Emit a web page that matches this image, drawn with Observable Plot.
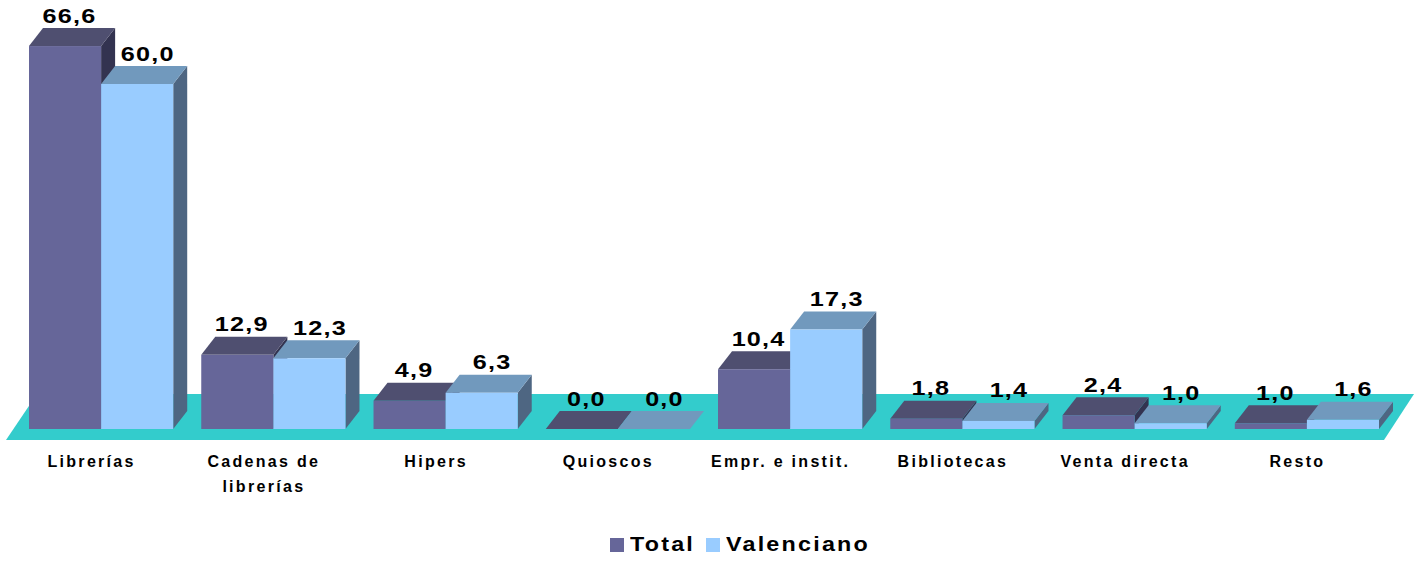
<!DOCTYPE html>
<html>
<head>
<meta charset="utf-8">
<script src="https://cdn.jsdelivr.net/npm/d3@7"></script>
<script src="https://cdn.jsdelivr.net/npm/@observablehq/plot@0.6"></script>
<style>
html,body{margin:0;padding:0;background:#fff;overflow:hidden}
#chart svg{display:block}
#legend{position:absolute;left:0;top:532px;width:1420px;height:28px;
 font:bold 21px "Liberation Sans",Arial,sans-serif;letter-spacing:2px;color:#000;line-height:24px}
#legend span{position:absolute;white-space:nowrap}
</style>
</head>
<body>
<div id="chart"></div>
<div id="legend"></div>
<script>
const categories = ["Librerías","Cadenas de\nlibrerías","Hipers","Quioscos","Empr. e instit.","Bibliotecas","Venta directa","Resto"];
const seriesNames = ["Total","Valenciano"];
const totalValues = [66.6,12.9,4.9,0.0,10.4,1.8,2.4,1.0];
const valencianoValues = [60.0,12.3,6.3,0.0,17.3,1.4,1.0,1.6];
const frontColors = ["#666699","#99ccff"];
const topColors = ["#4f4f70","#7199bd"];
const sideColors = ["#333350","#4e6682"];
const floorColor = "#33cccc";

const rowsOf = (name, values) => categories.map((category,i)=>({category, series:name, value:values[i]}));
const totalRows = rowsOf(seriesNames[0], totalValues);
const valRows = rowsOf(seriesNames[1], valencianoValues);
const fmt = d => d.value.toFixed(1).replace(".",",");

const depthX = 14, depthY = 18;
const NS = "http://www.w3.org/2000/svg";
function poly(parent, pts, fill){
  const p = document.createElementNS(NS,"polygon");
  p.setAttribute("points", pts.map(q=>q.join(",")).join(" "));
  p.setAttribute("fill", fill);
  parent.appendChild(p);
}
function box3d(rows, k){
  return function(index, scales, values, dimensions, context, next){
    const g = document.createElementNS(NS,"g");
    const w = scales.x.bandwidth();
    for (const i of index){
      const d = rows[i];
      const x0 = scales.x(d.series), x1 = x0 + w, yT = scales.y(d.value), yB = scales.y(0);
      poly(g,[[x1,yT],[x1+depthX,yT-depthY],[x1+depthX,yB-depthY],[x1,yB]],sideColors[k]);
      poly(g,[[x0,yT],[x0+depthX,yT-depthY],[x1+depthX,yT-depthY],[x1,yT]],topColors[k]);
    }
    const front = next(index, scales, values, dimensions, context);
    if (front) g.appendChild(front);
    return g;
  };
}
const labelFont = {fontFamily:"'Liberation Sans',Arial,sans-serif",fontWeight:"bold",fontSize:21,fill:"#000"};
const H = 525;
const plot = Plot.plot({
  width:1420, height:H,
  marginLeft:29, marginRight:41, marginTop:0, marginBottom:96,
  style:{background:"#fff",overflow:"visible"},
  fx:{domain:categories,paddingInner:28/172,paddingOuter:0,align:0,round:false,label:null},
  x:{domain:seriesNames,padding:0,round:false,axis:null},
  y:{domain:[0,429/5.75],axis:null},
  color:{domain:seriesNames,range:frontColors},
  marks:[
    Plot.barY(totalRows,{fx:"category",x:"series",y:"value",fill:"series",render:box3d(totalRows,0)}),
    Plot.barY(valRows,{fx:"category",x:"series",y:"value",fill:"series",render:box3d(valRows,1)}),
    Plot.text(totalRows,{fx:"category",x:"series",y:"value",text:fmt,dx:4,dy:-24,lineAnchor:"bottom",...labelFont}),
    Plot.text(valRows,{fx:"category",x:"series",y:"value",text:fmt,dx:10,dy:-24,lineAnchor:"bottom",...labelFont}),
    Plot.axisFx({anchor:"bottom",tickSize:0,tickPadding:19,dx:-10,label:null,lineHeight:1.6,lineWidth:Infinity,
      fontFamily:"'Liberation Sans',Arial,sans-serif",fontWeight:"bold",fontSize:16,fill:"#000"})
  ]
});
document.getElementById("chart").appendChild(plot);

// Floor, placed under all the marks, from the plot's own scales
const fxScale = plot.scale("fx"), yScale = plot.scale("y");
const left = fxScale.apply(categories[0]), right = fxScale.apply(categories[categories.length-1]) + fxScale.bandwidth;
const base = yScale.apply(0);
const floorG = document.createElementNS(NS,"g");
poly(floorG,[[left-23,base+11],[left+8,base-35],[right+35,base-35],[right+5,base+11]],floorColor);
const styleEl = plot.querySelector("style");
plot.insertBefore(floorG, styleEl ? styleEl.nextSibling : plot.firstChild);

// Wide lettering of the value labels and category spacing
plot.querySelectorAll("text").forEach(t=>{
  if (/^[0-9]+,[0-9]$/.test(t.textContent)) {
    t.style.letterSpacing = "1px";
    const len = t.getComputedTextLength();
    t.setAttribute("textLength", (len*1.2).toFixed(1));
    t.setAttribute("lengthAdjust","spacingAndGlyphs");
  } else {
    t.style.letterSpacing = "2.3px";
  }
});

const legend = d3.select("#legend");
const swatchLeft = [610,706], textLeft = [630,726];
seriesNames.forEach((name,i)=>{
  legend.append("span").style("left",swatchLeft[i]+"px").style("top","6px").style("width","14px").style("height","14px").style("background",frontColors[i]);
  legend.append("span").style("left",textLeft[i]+"px").style("top","0").style("transform","scaleX(1.11)").style("transform-origin","0 0").text(name);
});
</script>
</body>
</html>
